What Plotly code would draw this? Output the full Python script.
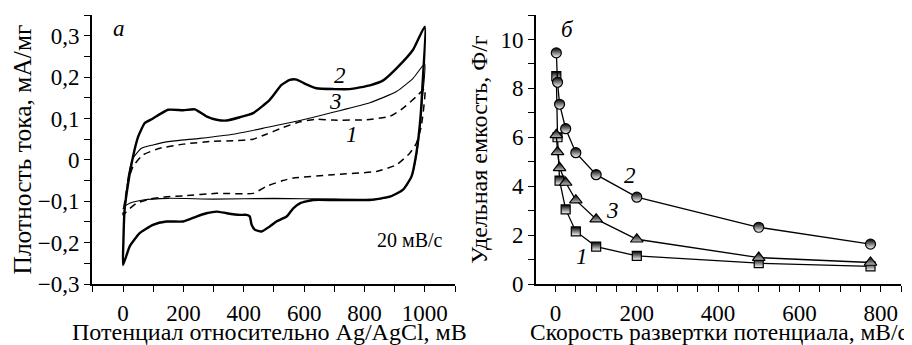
import plotly.graph_objects as go

# ---------- Panel a: cyclic voltammograms (20 mV/s) ----------
c2_up_x = [0, 1, 5, 17, 33, 50, 72, 99, 149, 199, 238, 276, 310, 343, 387, 431, 486, 525, 552, 575, 600, 641, 700, 751, 818, 862, 906, 961, 1000]
c2_up_y = [-0.254, -0.2, -0.121, -0.056, 0.008, 0.056, 0.089, 0.1, 0.121, 0.12, 0.122, 0.105, 0.097, 0.095, 0.103, 0.113, 0.145, 0.181, 0.193, 0.194, 0.185, 0.173, 0.171, 0.171, 0.18, 0.192, 0.221, 0.266, 0.322]
c2_dn_x = [1000, 992, 985, 972, 956, 928, 884, 818, 696, 630, 586, 564, 542, 508, 486, 459, 437, 426, 420, 409, 387, 343, 310, 276, 243, 199, 144, 99, 55, 22, 0]
c2_dn_y = [0.322, 0.177, 0.097, 0.016, -0.04, -0.072, -0.089, -0.097, -0.097, -0.097, -0.105, -0.117, -0.137, -0.149, -0.161, -0.173, -0.169, -0.157, -0.137, -0.133, -0.133, -0.129, -0.125, -0.129, -0.137, -0.149, -0.149, -0.157, -0.177, -0.209, -0.254]

c3_up_x = [0, 6, 17, 33, 61, 99, 149, 254, 365, 475, 586, 696, 818, 906, 961, 1000]
c3_up_y = [-0.118, -0.113, -0.04, 0.004, 0.028, 0.036, 0.044, 0.052, 0.062, 0.078, 0.095, 0.115, 0.138, 0.165, 0.197, 0.232]
c3_dn_x = [1000, 992, 984, 972, 956, 928, 884, 840, 700, 500, 300, 149, 66, 22, 6, 0]
c3_dn_y = [0.232, 0.15, 0.08, 0.01, -0.04, -0.072, -0.089, -0.095, -0.095, -0.093, -0.095, -0.093, -0.097, -0.105, -0.112, -0.118]

c1_up_x = [0, 8, 17, 33, 66, 122, 200, 300, 365, 431, 475, 530, 586, 641, 696, 807, 884, 928, 972, 1000]
c1_up_y = [-0.133, -0.09, -0.05, -0.016, 0.012, 0.028, 0.038, 0.045, 0.046, 0.05, 0.062, 0.078, 0.092, 0.098, 0.096, 0.097, 0.105, 0.125, 0.153, 0.172]
c1_dn_x = [1000, 988, 972, 950, 906, 840, 696, 564, 530, 475, 431, 310, 199, 144, 88, 44, 17, 0]
c1_dn_y = [0.172, 0.08, 0.04, 0.016, -0.012, -0.028, -0.036, -0.044, -0.05, -0.064, -0.081, -0.081, -0.087, -0.089, -0.095, -0.105, -0.121, -0.133]

# ---------- Panel б: specific capacitance vs scan rate ----------
scan_rate = [2, 5, 10, 25, 50, 100, 200, 500, 775]
cap_1 = [8.5, 6.0, 4.23, 3.05, 2.15, 1.53, 1.15, 0.85, 0.72]
cap_2 = [9.45, 8.25, 7.35, 6.35, 5.37, 4.47, 3.55, 2.32, 1.63]
cap_3 = [6.1, 5.4, 4.75, 4.15, 3.43, 2.65, 1.83, 1.08, 0.88]

left_y_ticks = [-0.3, -0.2, -0.1, 0, 0.1, 0.2, 0.3]
left_y_text = ["−0,3", "−0,2", "−0,1", "0", "0,1", "0,2", "0,3"]
left_x_ticks = [0, 200, 400, 600, 800, 1000]
right_x_ticks = [0, 200, 400, 600, 800]
right_y_ticks = [0, 2, 4, 6, 8, 10]

FONT = "Liberation Serif"
# page body has an 8px default margin; figure fills the rest of the 912x345 window
W, H, OFF = 904, 337, 8

def xd(p0, p1):
    return [(p0 - OFF) / W, (p1 - OFF) / W]

def yd(top, bottom):
    return [(H - (bottom - OFF)) / H, (H - (top - OFF)) / H]

fig = go.Figure()

def loop(xu, yu, xdn, ydn):
    return xu + xdn[1:], yu + ydn[1:]

x, y = loop(c1_up_x, c1_up_y, c1_dn_x, c1_dn_y)
fig.add_trace(go.Scatter(x=x, y=y, mode="lines", line=dict(color="black", width=1.5, dash="7px,5px", shape="spline", smoothing=0.5), xaxis="x", yaxis="y", showlegend=False))
x, y = loop(c3_up_x, c3_up_y, c3_dn_x, c3_dn_y)
fig.add_trace(go.Scatter(x=x, y=y, mode="lines", line=dict(color="black", width=1.1, shape="spline", smoothing=0.5), xaxis="x", yaxis="y", showlegend=False))
x, y = loop(c2_up_x, c2_up_y, c2_dn_x, c2_dn_y)
fig.add_trace(go.Scatter(x=x, y=y, mode="lines", line=dict(color="black", width=2.4, shape="spline", smoothing=0.5), xaxis="x", yaxis="y", showlegend=False))

def mk(sym, size, grad):
    return dict(symbol=sym, size=size, color="black", line=dict(color="black", width=1.2),
                gradient=dict(type="vertical", color=grad))

fig.add_trace(go.Scatter(x=scan_rate, y=cap_1, mode="lines+markers", line=dict(color="black", width=1.3),
                         marker=mk("square", 9, "white"), xaxis="x2", yaxis="y2", showlegend=False))
fig.add_trace(go.Scatter(x=scan_rate, y=cap_3, mode="lines+markers", line=dict(color="black", width=1.3),
                         marker=mk("triangle-up", 11, "#bbbbbb"), xaxis="x2", yaxis="y2", showlegend=False))
fig.add_trace(go.Scatter(x=scan_rate, y=cap_2, mode="lines+markers", line=dict(color="black", width=1.3),
                         marker=mk("circle", 10, "white"), xaxis="x2", yaxis="y2", showlegend=False))

axcommon = dict(showline=True, linecolor="black", linewidth=1.6, ticks="outside", ticklen=6, tickwidth=1.4,
                tickcolor="black", showgrid=False, zeroline=False, mirror=False, automargin=False,
                tickfont=dict(family=FONT, size=23, color="black"))

def minor(d):
    return dict(dtick=d, tick0=0, ticks="outside", ticklen=6, tickwidth=1.4, tickcolor="black")

fig.update_layout(
    width=W, height=H, margin=dict(l=0, r=0, t=0, b=0),
    paper_bgcolor="white", plot_bgcolor="white",
    font=dict(family=FONT, size=23, color="black"),
    xaxis=dict(domain=xd(92, 455), range=[-103, 1100], tickvals=left_x_ticks, minor=minor(100),
               ticklabelstandoff=2, anchor="y", **axcommon),
    yaxis=dict(domain=yd(15, 284), range=[-0.3, 0.35], tickvals=left_y_ticks, ticktext=left_y_text, minor=minor(0.05),
               title=dict(text="Плотность тока, мА/мг", font=dict(family=FONT, size=25.5), standoff=4),
               anchor="x", **axcommon),
    xaxis2=dict(domain=xd(536, 901), range=[-48, 850], tickvals=right_x_ticks, minor=minor(50),
                ticklabelstandoff=2, anchor="y2", **axcommon),
    yaxis2=dict(domain=yd(15, 284), range=[0, 11], tickvals=right_y_ticks, minor=minor(1),
                title=dict(text="Удельная емкость, Ф/г", font=dict(family=FONT, size=24), standoff=6),
                anchor="x2", **axcommon),
)

# x-axis titles as annotations (precise placement below the tick labels)
title_y = (H - (332 - OFF)) / H
fig.add_annotation(text="Потенциал относительно Ag/AgCl, мВ", xref="x domain", yref="paper", x=0.49, y=title_y,
                   xanchor="center", yanchor="middle", showarrow=False, font=dict(family=FONT, size=24, color="black"))
fig.add_annotation(text="Скорость развертки потенциала, мВ/с", xref="x2 domain", yref="paper", x=0.5, y=title_y,
                   xanchor="center", yanchor="middle", showarrow=False, font=dict(family=FONT, size=23.5, color="black"))

def lab(text, x, y, xref, yref, size=23, italic=True):
    fig.add_annotation(text=f"<i>{text}</i>" if italic else text, x=x, y=y, xref=xref, yref=yref,
                       showarrow=False, font=dict(family=FONT, size=size, color="black"))

lab("а", -14, 0.318, "x", "y")
lab("2", 718, 0.203, "x", "y")
lab("3", 705, 0.141, "x", "y")
lab("1", 757, 0.062, "x", "y")
lab("20 мВ/с", 950, -0.193, "x", "y", size=20, italic=False)
lab("б", 29, 10.42, "x2", "y2")
lab("2", 184, 4.44, "x2", "y2")
lab("3", 139, 3.0, "x2", "y2")
lab("1", 65, 1.11, "x2", "y2")

fig.write_html("out.html")
